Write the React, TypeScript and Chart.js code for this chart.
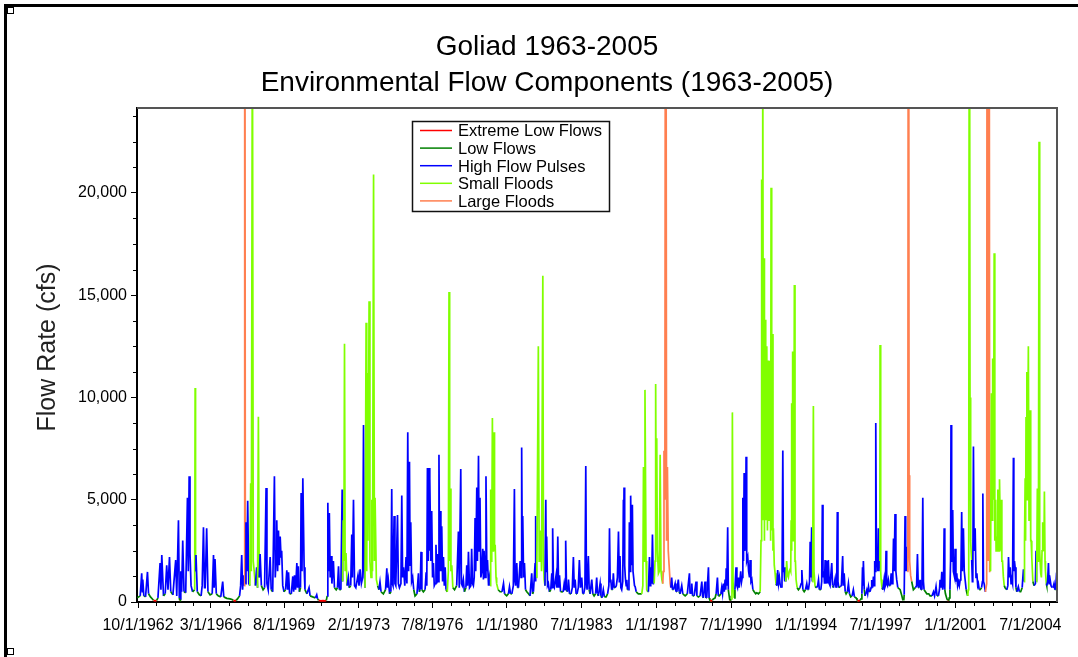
import React, { useEffect, useRef } from 'react';
import { Chart, registerables } from 'chart.js';

Chart.register(...registerables);

// ---------- text ----------
const chartTitle = ['Goliad 1963-2005', 'Environmental Flow Components (1963-2005)'];
const yAxisTitle = 'Flow Rate (cfs)';

// ---------- categories ----------
const componentCodes = ['E', 'L', 'H', 'S', 'F'];
const componentNames = ['Extreme Low Flows', 'Low Flows', 'High Flow Pulses', 'Small Floods', 'Large Floods'];
const componentColors = ['#FF0000', '#008000', '#0000FF', '#80FF00', '#FF7F50'];

// ---------- axes ----------
const xTickLabels = ['10/1/1962', '3/1/1966', '8/1/1969', '2/1/1973', '7/8/1976', '1/1/1980', '7/1/1983', '1/1/1987', '7/1/1990', '1/1/1994', '7/1/1997', '1/1/2001', '7/1/2004'];
const xTickYears = [1962.748, 1966.162, 1969.581, 1973.085, 1976.516, 1980.0, 1983.496, 1987.0, 1990.496, 1994.0, 1997.496, 2001.0, 2004.5];
const yTickValues = [0, 5000, 10000, 15000, 20000];
const yMinorStep = 1250;
const xStartYear = 1962.70;
const xEndYear = 2005.75;
const yMax = 24150;

// ---------- daily flow series (decimal year, cfs, component code) ----------
const flows1963to1967: [number, number, string][] = [
  [1962.71,200,'L'],[1962.85,300,'L'],[1962.92,1400,'H'],[1962.95,500,'H'],[1962.97,1100,'H'],[1963.02,300,'L'],
  [1963.10,250,'L'],[1963.19,1470,'H'],[1963.24,400,'L'],[1963.33,250,'L'],[1963.42,150,'L'],[1963.47,80,'E'],
  [1963.55,60,'E'],[1963.62,80,'E'],[1963.68,200,'L'],[1963.78,1900,'H'],[1963.82,600,'H'],[1963.86,2300,'H'],
  [1963.94,300,'L'],[1964.02,400,'L'],[1964.09,1800,'H'],[1964.15,600,'H'],[1964.22,2200,'H'],[1964.28,500,'L'],
  [1964.38,350,'L'],[1964.51,2050,'H'],[1964.56,300,'L'],[1964.64,4000,'H'],[1964.68,200,'L'],[1964.70,80,'E'],
  [1964.72,70,'E'],[1964.73,150,'L'],[1964.75,1500,'H'],[1964.79,500,'H'],[1964.84,3000,'H'],[1964.90,500,'L'],
  [1964.98,450,'L'],[1965.06,5100,'H'],[1965.10,1500,'H'],[1965.14,6150,'H'],[1965.18,2400,'H'],[1965.23,800,'H'],
  [1965.30,500,'L'],[1965.40,600,'L'],[1965.42,10460,'S'],[1965.44,1500,'S'],[1965.46,2300,'H'],[1965.52,500,'L'],
  [1965.62,350,'L'],[1965.70,300,'L'],[1965.75,800,'H'],[1965.81,3650,'H'],[1965.86,700,'H'],[1965.89,700,'H'],
  [1965.96,3600,'H'],[1966.02,500,'L'],[1966.12,350,'L'],[1966.22,400,'L'],[1966.28,2300,'H'],[1966.31,700,'H'],
  [1966.35,2100,'H'],[1966.41,400,'L'],[1966.50,300,'L'],[1966.62,250,'L'],[1966.71,1000,'H'],[1966.76,250,'L'],
  [1966.90,180,'L'],[1967.05,150,'L'],[1967.15,120,'L'],[1967.21,80,'E'],[1967.28,60,'E'],[1967.34,80,'E'],
  [1967.40,150,'L'],[1967.50,300,'L'],[1967.55,800,'H'],[1967.60,2300,'H'],[1967.64,600,'H'],[1967.68,1300,'H'],
  [1967.72,800,'H'],[1967.74,50000,'F'],[1967.77,900,'F'],[1967.80,3900,'H'],[1967.84,1500,'H'],[1967.88,4950,'H'],
  [1967.93,900,'H'],[1967.98,800,'L'],
];

const flows1968to1973: [number, number, string][] = [
  [1968.02,5800,'S'],[1968.05,1500,'S'],[1968.10,30000,'S'],[1968.14,2000,'S'],[1968.18,1550,'S'],[1968.24,800,'L'],
  [1968.30,1700,'H'],[1968.34,700,'L'],[1968.38,9050,'S'],[1968.42,1200,'S'],[1968.46,2350,'H'],[1968.52,800,'L'],
  [1968.60,600,'L'],[1968.67,700,'L'],[1968.74,5570,'H'],[1968.78,900,'H'],[1968.84,600,'L'],[1968.93,2200,'H'],
  [1968.98,600,'L'],[1969.05,500,'L'],[1969.13,6150,'H'],[1969.17,1200,'H'],[1969.22,2500,'H'],[1969.24,4000,'H'],
  [1969.28,1500,'H'],[1969.32,3500,'H'],[1969.36,1800,'H'],[1969.40,3200,'H'],[1969.44,2200,'H'],[1969.47,2500,'H'],
  [1969.52,800,'H'],[1969.58,500,'L'],[1969.65,600,'L'],[1969.71,1550,'H'],[1969.75,600,'L'],[1969.79,1450,'H'],
  [1969.84,400,'L'],[1969.92,400,'L'],[1969.99,1250,'H'],[1970.03,500,'L'],[1970.07,1300,'H'],[1970.12,600,'L'],
  [1970.18,1900,'H'],[1970.21,700,'H'],[1970.25,1750,'H'],[1970.30,500,'L'],[1970.35,700,'L'],[1970.38,5330,'H'],
  [1970.42,1500,'H'],[1970.46,6050,'H'],[1970.52,1700,'H'],[1970.56,600,'L'],[1970.65,400,'L'],[1970.75,700,'H'],
  [1970.80,300,'L'],[1970.92,250,'L'],[1971.05,200,'L'],[1971.11,350,'H'],[1971.15,150,'L'],[1971.20,80,'E'],
  [1971.30,60,'E'],[1971.40,70,'E'],[1971.50,60,'E'],[1971.56,80,'E'],[1971.60,300,'L'],[1971.63,4850,'H'],
  [1971.66,1500,'H'],[1971.70,4350,'H'],[1971.74,1200,'H'],[1971.78,2250,'H'],[1971.82,900,'H'],[1971.89,2000,'H'],
  [1971.94,700,'L'],[1972.02,600,'L'],[1972.08,700,'L'],[1972.13,1750,'H'],[1972.17,600,'L'],[1972.24,600,'L'],
  [1972.30,5500,'H'],[1972.32,1000,'H'],[1972.35,4000,'S'],[1972.38,2000,'S'],[1972.41,12620,'S'],[1972.44,1500,'S'],
  [1972.48,2400,'S'],[1972.53,800,'L'],[1972.59,1200,'H'],[1972.63,700,'L'],[1972.70,800,'L'],[1972.75,3300,'H'],
  [1972.78,1200,'H'],[1972.83,5000,'H'],[1972.88,800,'H'],[1972.94,700,'L'],[1973.04,1300,'H'],[1973.09,800,'H'],
  [1973.14,1600,'H'],[1973.20,900,'L'],[1973.26,1200,'H'],[1973.30,8650,'H'],[1973.34,1500,'H'],[1973.37,700,'S'],
  [1973.42,13650,'S'],[1973.45,1500,'S'],[1973.48,11200,'S'],[1973.51,3000,'S'],[1973.56,14700,'S'],[1973.60,2000,'S'],
  [1973.65,1200,'S'],[1973.69,5000,'S'],[1973.72,1500,'S'],[1973.77,20900,'S'],[1973.81,2000,'S'],[1973.84,5100,'S'],
  [1973.90,1100,'S'],[1973.96,800,'L'],
];

const flows1974to1979: [number, number, string][] = [
  [1974.02,600,'L'],[1974.07,980,'H'],[1974.12,500,'L'],[1974.23,400,'L'],[1974.33,600,'L'],[1974.39,1650,'H'],
  [1974.42,700,'H'],[1974.46,1080,'H'],[1974.52,400,'L'],[1974.58,500,'L'],[1974.62,5520,'H'],[1974.65,900,'H'],
  [1974.68,800,'L'],[1974.73,4200,'H'],[1974.77,900,'H'],[1974.81,800,'L'],[1974.89,4250,'H'],[1974.93,900,'H'],
  [1974.98,700,'L'],[1975.05,900,'H'],[1975.09,5200,'H'],[1975.13,1200,'H'],[1975.17,1700,'H'],[1975.23,800,'H'],
  [1975.29,2200,'H'],[1975.33,900,'H'],[1975.37,8300,'H'],[1975.41,1500,'H'],[1975.45,6850,'H'],[1975.48,1800,'H'],
  [1975.51,3900,'H'],[1975.55,1000,'H'],[1975.60,1200,'H'],[1975.65,600,'L'],[1975.71,300,'L'],[1975.80,400,'L'],
  [1975.87,1400,'H'],[1975.91,500,'L'],[1975.95,600,'L'],[1975.99,2450,'H'],[1976.03,600,'L'],[1976.10,500,'L'],
  [1976.18,600,'L'],[1976.23,1450,'H'],[1976.26,800,'H'],[1976.29,6550,'H'],[1976.33,2000,'H'],[1976.37,6550,'H'],
  [1976.39,2500,'H'],[1976.41,6050,'H'],[1976.45,2000,'H'],[1976.49,4450,'H'],[1976.53,1200,'H'],[1976.57,1900,'H'],
  [1976.61,800,'H'],[1976.65,900,'H'],[1976.69,2800,'H'],[1976.73,900,'H'],[1976.77,2350,'H'],[1976.80,1000,'H'],
  [1976.83,7200,'H'],[1976.86,1500,'H'],[1976.88,4450,'H'],[1976.92,1500,'H'],[1976.96,3700,'H'],[1977.00,1000,'H'],
  [1977.04,2200,'H'],[1977.08,800,'H'],[1977.12,1700,'H'],[1977.16,600,'L'],[1977.22,500,'L'],[1977.27,1500,'S'],
  [1977.30,15150,'S'],[1977.33,2000,'S'],[1977.35,5550,'S'],[1977.39,1500,'S'],[1977.43,1800,'S'],[1977.48,700,'L'],
  [1977.56,600,'L'],[1977.66,800,'L'],[1977.74,3450,'H'],[1977.78,700,'L'],[1977.85,6500,'H'],[1977.88,900,'H'],
  [1977.92,800,'L'],[1977.97,1100,'H'],[1978.02,500,'L'],[1978.09,700,'L'],[1978.13,1800,'H'],[1978.17,800,'H'],
  [1978.21,2450,'H'],[1978.26,700,'L'],[1978.32,800,'H'],[1978.36,2600,'H'],[1978.40,900,'H'],[1978.44,800,'L'],
  [1978.48,1200,'H'],[1978.52,4100,'H'],[1978.55,1500,'H'],[1978.60,5600,'H'],[1978.63,2000,'H'],[1978.68,7150,'H'],
  [1978.71,2500,'H'],[1978.75,5100,'H'],[1978.79,1200,'H'],[1978.83,1500,'H'],[1978.88,2600,'H'],[1978.91,1100,'H'],
  [1978.94,2500,'H'],[1978.99,1200,'H'],[1979.03,6150,'H'],[1979.07,1500,'H'],[1979.10,2050,'H'],[1979.15,800,'H'],
  [1979.19,1200,'H'],[1979.23,800,'S'],[1979.25,5500,'S'],[1979.28,2000,'S'],[1979.30,3000,'S'],[1979.33,9000,'S'],
  [1979.36,2500,'S'],[1979.38,4000,'S'],[1979.41,8300,'S'],[1979.43,2500,'S'],[1979.46,2800,'S'],[1979.50,1200,'S'],
  [1979.53,900,'S'],[1979.60,600,'L'],[1979.69,500,'L'],[1979.78,500,'L'],[1979.85,900,'H'],[1979.90,400,'L'],
];

const flows1980to1985: [number, number, string][] = [
  [1980.00,300,'L'],[1980.08,400,'L'],[1980.13,750,'H'],[1980.18,400,'L'],[1980.24,400,'L'],[1980.31,800,'H'],
  [1980.36,5520,'H'],[1980.39,1000,'H'],[1980.42,800,'L'],[1980.47,1900,'H'],[1980.51,700,'L'],[1980.55,700,'L'],
  [1980.63,2000,'H'],[1980.67,1200,'H'],[1980.70,7550,'H'],[1980.73,2000,'H'],[1980.75,4200,'H'],[1980.79,1200,'H'],
  [1980.83,1900,'H'],[1980.88,600,'L'],[1980.94,500,'L'],[1981.02,400,'L'],[1981.09,300,'L'],[1981.17,1400,'H'],
  [1981.21,400,'L'],[1981.25,500,'L'],[1981.33,1900,'H'],[1981.35,1000,'H'],[1981.36,4200,'H'],[1981.39,1200,'H'],
  [1981.41,1500,'S'],[1981.48,12500,'S'],[1981.52,2000,'S'],[1981.55,2500,'S'],[1981.59,3500,'S'],[1981.63,1500,'S'],
  [1981.69,15950,'S'],[1981.72,2000,'S'],[1981.75,1100,'S'],[1981.79,800,'H'],[1981.83,5000,'H'],[1981.85,1500,'H'],
  [1981.87,3200,'H'],[1981.91,800,'H'],[1981.95,900,'H'],[1982.00,500,'L'],[1982.06,600,'L'],[1982.11,1400,'H'],
  [1982.13,700,'H'],[1982.15,3600,'H'],[1982.19,800,'H'],[1982.23,700,'L'],[1982.31,1300,'H'],[1982.35,700,'H'],
  [1982.39,3200,'H'],[1982.43,700,'H'],[1982.47,1300,'H'],[1982.52,500,'L'],[1982.58,500,'L'],[1982.64,500,'L'],
  [1982.69,900,'H'],[1982.73,600,'H'],[1982.76,3000,'H'],[1982.80,600,'L'],[1982.84,500,'L'],[1982.89,1100,'H'],
  [1982.94,400,'L'],[1983.01,400,'L'],[1983.07,700,'H'],[1983.12,2200,'H'],[1983.16,700,'H'],[1983.20,1100,'H'],
  [1983.25,400,'L'],[1983.29,400,'L'],[1983.35,700,'H'],[1983.40,2050,'H'],[1983.45,700,'H'],[1983.51,1200,'H'],
  [1983.56,400,'L'],[1983.60,400,'L'],[1983.66,700,'H'],[1983.70,6650,'H'],[1983.73,1000,'H'],[1983.76,600,'L'],
  [1983.82,2250,'H'],[1983.86,600,'L'],[1983.90,400,'L'],[1983.98,1100,'H'],[1984.03,400,'L'],[1984.09,300,'L'],
  [1984.16,400,'L'],[1984.21,1200,'H'],[1984.25,400,'L'],[1984.29,300,'L'],[1984.37,900,'H'],[1984.41,300,'L'],
  [1984.45,200,'L'],[1984.52,600,'H'],[1984.57,250,'L'],[1984.65,250,'L'],[1984.72,400,'L'],[1984.78,800,'H'],
  [1984.81,3600,'H'],[1984.84,1000,'H'],[1984.87,1100,'H'],[1984.91,600,'L'],[1984.95,600,'L'],[1984.99,1400,'H'],
  [1985.03,700,'L'],[1985.07,700,'L'],[1985.13,800,'H'],[1985.18,1200,'H'],[1985.23,3450,'H'],[1985.27,1000,'H'],
  [1985.30,2250,'H'],[1985.34,700,'H'],[1985.38,600,'L'],[1985.43,1000,'H'],[1985.46,5000,'H'],[1985.47,2500,'H'],
  [1985.49,5600,'H'],[1985.52,1800,'H'],[1985.55,1200,'H'],[1985.59,800,'H'],[1985.62,1080,'H'],[1985.65,600,'L'],
  [1985.68,600,'L'],[1985.72,1000,'H'],[1985.74,3900,'H'],[1985.77,1500,'H'],[1985.80,5200,'H'],[1985.84,1800,'H'],
  [1985.88,4750,'H'],[1985.91,1500,'H'],[1985.94,1500,'H'],[1985.98,800,'H'],
];

const flows1986to1991: [number, number, string][] = [
  [1986.01,750,'H'],[1986.06,500,'L'],[1986.16,400,'L'],[1986.25,400,'L'],[1986.32,400,'L'],[1986.37,800,'S'],
  [1986.40,6600,'S'],[1986.43,2000,'S'],[1986.47,10370,'S'],[1986.52,2000,'S'],[1986.55,600,'S'],[1986.60,500,'L'],
  [1986.63,500,'L'],[1986.68,2200,'H'],[1986.71,800,'H'],[1986.74,1700,'H'],[1986.78,900,'H'],[1986.82,3300,'H'],
  [1986.86,900,'H'],[1986.90,900,'H'],[1986.94,2000,'S'],[1986.97,10660,'S'],[1987.00,3000,'S'],[1987.02,8000,'S'],
  [1987.05,2500,'S'],[1987.07,2500,'S'],[1987.10,1400,'S'],[1987.14,1500,'S'],[1987.18,7200,'S'],[1987.22,1500,'S'],
  [1987.26,1100,'S'],[1987.30,900,'L'],[1987.33,1500,'F'],[1987.36,7400,'F'],[1987.40,5000,'F'],[1987.44,50000,'F'],
  [1987.48,3000,'F'],[1987.52,6600,'F'],[1987.56,2500,'F'],[1987.60,1800,'F'],[1987.65,900,'F'],[1987.68,700,'L'],
  [1987.72,1200,'H'],[1987.76,600,'L'],[1987.80,600,'L'],[1987.88,900,'H'],[1987.92,500,'L'],[1987.96,500,'L'],
  [1988.03,1100,'H'],[1988.07,500,'L'],[1988.11,400,'L'],[1988.19,800,'H'],[1988.24,400,'L'],[1988.35,300,'L'],
  [1988.45,400,'L'],[1988.55,1400,'H'],[1988.58,400,'L'],[1988.61,400,'L'],[1988.66,900,'H'],[1988.70,300,'L'],
  [1988.77,300,'L'],[1988.86,1000,'H'],[1988.90,300,'L'],[1988.97,250,'L'],[1989.05,300,'L'],[1989.13,1000,'H'],
  [1989.17,250,'L'],[1989.20,200,'L'],[1989.28,1000,'H'],[1989.32,200,'L'],[1989.36,200,'L'],[1989.44,1700,'H'],
  [1989.47,200,'L'],[1989.50,120,'L'],[1989.52,80,'E'],[1989.57,60,'E'],[1989.62,80,'E'],[1989.67,150,'L'],
  [1989.75,200,'L'],[1989.80,400,'L'],[1989.86,1200,'H'],[1989.90,300,'L'],[1989.95,300,'L'],[1990.02,400,'L'],
  [1990.06,700,'H'],[1990.10,400,'H'],[1990.14,900,'H'],[1990.18,500,'H'],[1990.22,1100,'H'],[1990.25,600,'H'],
  [1990.27,1650,'H'],[1990.30,800,'H'],[1990.34,3650,'H'],[1990.37,600,'L'],[1990.41,300,'L'],[1990.44,80,'E'],
  [1990.47,60,'E'],[1990.50,150,'L'],[1990.54,500,'S'],[1990.56,9270,'S'],[1990.59,1000,'S'],[1990.64,200,'S'],
  [1990.68,600,'L'],[1990.73,1700,'H'],[1990.77,800,'H'],[1990.80,700,'L'],[1990.84,1200,'H'],[1990.88,700,'H'],
  [1990.95,1500,'H'],[1990.99,1000,'H'],[1991.02,1200,'H'],[1991.05,5100,'H'],[1991.08,2000,'H'],[1991.11,6300,'H'],
  [1991.13,2500,'H'],[1991.15,2500,'H'],[1991.18,3000,'H'],[1991.20,7100,'H'],[1991.23,2000,'H'],[1991.28,2200,'H'],
  [1991.32,1500,'H'],[1991.36,1200,'H'],[1991.39,2050,'H'],[1991.43,1000,'H'],[1991.47,1100,'H'],[1991.52,600,'L'],
  [1991.58,500,'L'],[1991.65,400,'L'],[1991.70,450,'L'],[1991.78,400,'L'],[1991.86,500,'L'],[1991.90,3000,'S'],
  [1991.93,20650,'S'],[1991.95,5000,'S'],[1991.98,30000,'S'],
];

const flows1992to1997: [number, number, string][] = [
  [1992.01,4000,'S'],[1992.04,16800,'S'],[1992.06,3000,'S'],[1992.09,13800,'S'],[1992.12,4000,'S'],[1992.17,12500,'S'],
  [1992.20,3500,'S'],[1992.25,11800,'S'],[1992.28,4000,'S'],[1992.32,11800,'S'],[1992.35,3000,'S'],[1992.37,20250,'S'],
  [1992.40,3500,'S'],[1992.43,13100,'S'],[1992.46,2500,'S'],[1992.48,3600,'S'],[1992.52,1800,'S'],[1992.56,1400,'S'],
  [1992.60,900,'L'],[1992.64,800,'L'],[1992.68,1560,'H'],[1992.72,900,'H'],[1992.76,1200,'H'],[1992.79,900,'H'],
  [1992.84,700,'L'],[1992.88,700,'L'],[1992.92,7400,'H'],[1992.95,1500,'H'],[1992.98,1500,'H'],[1993.01,1000,'H'],
  [1993.03,1700,'H'],[1993.06,1000,'H'],[1993.10,2000,'S'],[1993.14,1300,'S'],[1993.18,1200,'S'],[1993.22,1500,'S'],
  [1993.26,1600,'S'],[1993.29,1500,'S'],[1993.31,4000,'S'],[1993.33,2500,'S'],[1993.34,9720,'S'],[1993.36,3000,'S'],
  [1993.38,12250,'S'],[1993.40,3000,'S'],[1993.42,5000,'S'],[1993.44,3000,'S'],[1993.46,15500,'S'],[1993.49,2000,'S'],
  [1993.51,2000,'S'],[1993.54,1100,'S'],[1993.59,700,'L'],[1993.65,600,'L'],[1993.72,700,'L'],[1993.78,900,'H'],
  [1993.81,1560,'H'],[1993.86,600,'L'],[1993.92,500,'L'],[1993.98,600,'L'],[1994.04,900,'H'],[1994.08,600,'L'],
  [1994.12,600,'L'],[1994.17,1000,'H'],[1994.20,2950,'H'],[1994.23,1200,'H'],[1994.27,3650,'H'],[1994.30,1000,'H'],
  [1994.32,2000,'S'],[1994.35,9580,'S'],[1994.38,1500,'S'],[1994.40,1500,'S'],[1994.43,750,'L'],[1994.50,700,'L'],
  [1994.55,800,'H'],[1994.59,1080,'H'],[1994.63,600,'L'],[1994.70,600,'L'],[1994.74,1000,'H'],[1994.77,4750,'H'],
  [1994.80,1200,'H'],[1994.84,1500,'H'],[1994.87,900,'H'],[1994.90,2050,'H'],[1994.93,900,'H'],[1994.98,2000,'H'],
  [1995.01,900,'H'],[1995.05,2050,'H'],[1995.09,900,'H'],[1995.13,800,'L'],[1995.21,1900,'H'],[1995.25,800,'L'],
  [1995.29,700,'L'],[1995.37,1150,'H'],[1995.41,700,'L'],[1995.44,700,'L'],[1995.47,4400,'H'],[1995.50,1000,'H'],
  [1995.54,700,'L'],[1995.60,750,'L'],[1995.66,800,'H'],[1995.72,2250,'H'],[1995.75,800,'H'],[1995.79,1400,'H'],
  [1995.84,500,'L'],[1995.88,400,'L'],[1995.94,500,'L'],[1995.99,900,'H'],[1996.04,400,'L'],[1996.10,250,'L'],
  [1996.16,300,'L'],[1996.22,600,'H'],[1996.27,250,'L'],[1996.35,200,'L'],[1996.39,120,'L'],[1996.41,80,'E'],
  [1996.47,60,'E'],[1996.54,80,'E'],[1996.58,150,'L'],[1996.62,400,'L'],[1996.65,1700,'H'],[1996.67,800,'H'],
  [1996.69,2000,'H'],[1996.73,600,'L'],[1996.77,300,'L'],[1996.85,600,'H'],[1996.89,400,'L'],[1996.93,750,'H'],
  [1996.97,500,'L'],[1997.00,500,'L'],[1997.05,700,'H'],[1997.08,1080,'H'],[1997.12,700,'H'],[1997.16,1240,'H'],
  [1997.19,800,'H'],[1997.22,2000,'H'],[1997.25,1500,'H'],[1997.27,8750,'H'],[1997.30,2000,'H'],[1997.32,2500,'H'],
  [1997.36,1500,'H'],[1997.39,3600,'H'],[1997.42,1500,'H'],[1997.44,2000,'H'],[1997.46,2000,'S'],[1997.47,12560,'S'],
  [1997.50,1500,'S'],[1997.52,1100,'S'],[1997.56,700,'L'],[1997.60,600,'L'],[1997.66,1100,'H'],[1997.69,700,'L'],
  [1997.72,800,'H'],[1997.75,2500,'H'],[1997.78,900,'H'],[1997.82,800,'L'],[1997.86,1080,'H'],[1997.90,800,'L'],
  [1997.95,800,'H'],[1997.99,1400,'H'],
];

const flows1998to2005: [number, number, string][] = [
  [1998.03,900,'H'],[1998.07,1500,'H'],[1998.10,3100,'H'],[1998.13,1500,'H'],[1998.17,4300,'H'],[1998.21,1500,'H'],
  [1998.25,1080,'H'],[1998.30,700,'L'],[1998.41,600,'L'],[1998.49,300,'L'],[1998.53,120,'L'],[1998.55,80,'E'],
  [1998.58,80,'E'],[1998.60,350,'L'],[1998.64,4200,'H'],[1998.67,1500,'H'],[1998.72,2700,'H'],[1998.75,1500,'H'],
  [1998.77,4300,'F'],[1998.80,50000,'F'],[1998.83,3000,'F'],[1998.84,6200,'F'],[1998.87,2000,'F'],[1998.90,1300,'F'],
  [1998.95,1000,'L'],[1999.03,600,'L'],[1999.12,700,'L'],[1999.18,800,'H'],[1999.22,2350,'H'],[1999.26,700,'L'],
  [1999.30,700,'L'],[1999.34,1080,'H'],[1999.38,600,'L'],[1999.43,600,'L'],[1999.47,5100,'H'],[1999.50,1000,'H'],
  [1999.53,600,'L'],[1999.66,400,'L'],[1999.75,400,'L'],[1999.81,300,'L'],[1999.90,300,'L'],[1999.97,500,'H'],
  [2000.02,300,'L'],[2000.09,750,'H'],[2000.14,300,'L'],[2000.20,300,'L'],[2000.25,600,'H'],[2000.28,1080,'H'],
  [2000.32,700,'H'],[2000.36,1480,'H'],[2000.40,600,'H'],[2000.44,900,'H'],[2000.47,3600,'H'],[2000.50,600,'L'],
  [2000.53,400,'L'],[2000.60,150,'L'],[2000.64,80,'E'],[2000.68,60,'E'],[2000.71,200,'L'],[2000.74,600,'L'],
  [2000.77,2000,'H'],[2000.79,8650,'H'],[2000.82,2500,'H'],[2000.84,2000,'H'],[2000.87,4500,'H'],[2000.90,1500,'H'],
  [2000.93,1500,'H'],[2000.96,1200,'H'],[2000.98,2600,'H'],[2001.02,1000,'H'],[2001.06,1400,'H'],[2001.10,800,'H'],
  [2001.14,1000,'H'],[2001.18,800,'H'],[2001.22,1080,'H'],[2001.25,1200,'H'],[2001.29,4400,'H'],[2001.32,1500,'H'],
  [2001.37,3600,'H'],[2001.41,1500,'H'],[2001.45,1100,'H'],[2001.50,600,'L'],[2001.53,600,'L'],[2001.57,300,'L'],
  [2001.60,600,'S'],[2001.62,3000,'S'],[2001.65,40000,'S'],[2001.68,10000,'S'],[2001.71,3000,'S'],[2001.73,2500,'S'],
  [2001.76,2050,'H'],[2001.79,1000,'H'],[2001.81,1200,'H'],[2001.84,7600,'H'],[2001.87,2500,'H'],[2001.92,3600,'H'],
  [2001.96,1200,'H'],[2002.00,1400,'H'],[2002.04,800,'H'],[2002.07,900,'H'],[2002.11,600,'L'],[2002.15,600,'L'],
  [2002.22,700,'L'],[2002.26,1000,'H'],[2002.28,5300,'H'],[2002.31,1000,'H'],[2002.34,900,'H'],[2002.40,500,'L'],
  [2002.46,900,'F'],[2002.49,60000,'F'],[2002.52,2000,'F'],[2002.53,4000,'F'],[2002.56,60000,'F'],[2002.60,1500,'F'],
  [2002.64,1500,'S'],[2002.68,10200,'S'],[2002.71,4000,'S'],[2002.74,11900,'S'],[2002.78,5000,'S'],[2002.81,17050,'S'],
  [2002.84,3000,'S'],[2002.88,5000,'S'],[2002.90,2500,'S'],[2002.93,3200,'S'],[2002.96,2500,'S'],[2002.98,5500,'S'],
  [2003.01,3500,'S'],[2003.04,2500,'S'],[2003.06,6000,'S'],[2003.09,4000,'S'],[2003.11,2500,'S'],[2003.13,5000,'S'],
  [2003.17,2000,'S'],[2003.20,2000,'S'],[2003.24,1240,'S'],[2003.28,800,'L'],[2003.32,700,'L'],[2003.40,600,'L'],
  [2003.45,800,'H'],[2003.48,2200,'H'],[2003.52,1200,'H'],[2003.56,1700,'H'],[2003.60,900,'H'],[2003.63,1100,'H'],
  [2003.67,900,'H'],[2003.71,7050,'H'],[2003.73,1500,'H'],[2003.76,2000,'H'],[2003.79,1700,'H'],[2003.83,700,'L'],
  [2003.87,500,'L'],[2003.94,750,'H'],[2003.99,500,'L'],[2004.05,500,'L'],[2004.12,700,'L'],[2004.18,1600,'H'],
  [2004.21,1000,'H'],[2004.23,3000,'S'],[2004.26,6050,'S'],[2004.28,3000,'S'],[2004.30,9000,'S'],[2004.34,11250,'S'],
  [2004.36,5000,'S'],[2004.38,8000,'S'],[2004.41,12500,'S'],[2004.44,4000,'S'],[2004.46,6000,'S'],[2004.49,9370,'S'],
  [2004.52,3000,'S'],[2004.54,3000,'S'],[2004.57,2200,'S'],[2004.62,1000,'L'],[2004.68,800,'L'],[2004.74,900,'H'],
  [2004.77,2500,'H'],[2004.79,1000,'H'],[2004.80,1500,'S'],[2004.83,5550,'S'],[2004.86,2000,'S'],[2004.88,2000,'S'],
  [2004.91,22500,'S'],[2004.94,2500,'S'],[2004.96,2000,'S'],[2004.99,1400,'S'],[2005.02,1200,'S'],[2005.05,2500,'S'],
  [2005.08,3900,'S'],[2005.11,3000,'S'],[2005.14,2500,'S'],[2005.16,5400,'S'],[2005.19,2000,'S'],[2005.21,1500,'S'],
  [2005.25,900,'L'],[2005.27,800,'L'],[2005.31,1000,'H'],[2005.35,1900,'H'],[2005.38,900,'H'],[2005.40,1300,'H'],
  [2005.43,1080,'H'],[2005.47,800,'H'],[2005.52,700,'L'],[2005.56,700,'L'],[2005.61,900,'H'],[2005.65,600,'L'],
  [2005.68,600,'L'],[2005.71,1080,'H'],[2005.75,800,'H'],
];

const FONT = "'Liberation Sans', Arial, Helvetica, sans-serif";

export default function App() {
  const canvasRef = useRef<HTMLCanvasElement | null>(null);

  useEffect(() => {
    const canvas = canvasRef.current;
    if (!canvas) return;

    const rows = [
      ...flows1963to1967, ...flows1968to1973, ...flows1974to1979,
      ...flows1980to1985, ...flows1986to1991, ...flows1992to1997, ...flows1998to2005,
    ];
    const points = rows.map((r) => ({ x: r[0], y: r[1], c: componentCodes.indexOf(r[2]) }));
    const colorOf = (c: number) => componentColors[c] ?? componentColors[2];

    const decorPlugin = {
      id: 'decor',
      afterDraw(chart: any) {
        const { ctx, chartArea: a, scales } = chart;
        const xs = scales.x;
        const ys = scales.y;
        ctx.save();
        // top & right frame of plot area
        ctx.strokeStyle = '#555555';
        ctx.lineWidth = 2;
        ctx.beginPath();
        ctx.moveTo(a.left, a.top);
        ctx.lineTo(a.right, a.top);
        ctx.lineTo(a.right, a.bottom);
        ctx.stroke();
        // minor ticks
        ctx.strokeStyle = '#000';
        ctx.lineWidth = 1;
        ctx.beginPath();
        for (let v = yMinorStep; v < yMax; v += yMinorStep) {
          if (v % 5000 === 0) continue;
          const py = Math.round(ys.getPixelForValue(v)) + 0.5;
          ctx.moveTo(a.left - 4, py);
          ctx.lineTo(a.left, py);
        }
        for (let i = 0; i < xTickYears.length; i++) {
          const a0 = xTickYears[i];
          const a1 = i + 1 < xTickYears.length ? xTickYears[i + 1] : a0 + (a0 - xTickYears[i - 1]);
          for (let k = 1; k < 4; k++) {
            const v = a0 + ((a1 - a0) * k) / 4;
            if (v > xEndYear) break;
            const px = Math.round(xs.getPixelForValue(v)) + 0.5;
            ctx.moveTo(px, a.bottom);
            ctx.lineTo(px, a.bottom + 4);
          }
        }
        ctx.stroke();

        // y axis title (rotated)
        ctx.save();
        ctx.translate(48, 347.5);
        ctx.rotate(-Math.PI / 2);
        ctx.fillStyle = '#222';
        ctx.font = `25px ${FONT}`;
        ctx.textAlign = 'center';
        ctx.textBaseline = 'middle';
        ctx.fillText(yAxisTitle, 0, 0);
        ctx.restore();

        // legend box
        const lx = a.left + 275;
        const ly = a.top + 13;
        const lw = 197;
        const lh = 90;
        ctx.fillStyle = '#ffffff';
        ctx.fillRect(lx, ly, lw, lh);
        ctx.strokeStyle = '#111';
        ctx.lineWidth = 1.5;
        ctx.strokeRect(lx + 0.5, ly + 0.5, lw, lh);
        ctx.font = `16.5px ${FONT}`;
        ctx.textBaseline = 'alphabetic';
        ctx.textAlign = 'left';
        componentNames.forEach((name, i) => {
          const cy = ly + 9.5 + i * 17.6;
          ctx.strokeStyle = componentColors[i];
          ctx.lineWidth = 1.5;
          ctx.beginPath();
          ctx.moveTo(lx + 8, cy);
          ctx.lineTo(lx + 40, cy);
          ctx.stroke();
          ctx.fillStyle = '#000';
          ctx.fillText(name, lx + 46, cy + 5.9);
        });
        ctx.restore();
      },
    };

    const chart = new Chart(canvas, {
      type: 'line',
      data: {
        datasets: [
          {
            label: 'Flow',
            data: points as any,
            parsing: false,
            borderColor: componentColors[2],
            borderWidth: 1.7,
            pointRadius: 0,
            tension: 0,
            spanGaps: false,
            segment: {
              borderColor: (sc: any) => {
                const p0 = points[sc.p0DataIndex];
                const p1 = points[sc.p1DataIndex];
                const hi = p0.y >= p1.y ? p0 : p1;
                return colorOf(hi.c);
              },
            },
          } as any,
        ],
      },
      options: {
        animation: false,
        responsive: false,
        events: [],
        layout: { padding: { left: 37, right: 21, top: 0, bottom: 0 } },
        plugins: {
          legend: { display: false },
          tooltip: { enabled: false },
          title: {
            display: true,
            text: chartTitle,
            color: '#000',
            font: { family: FONT, size: 28, weight: 'normal', lineHeight: 36 / 28 },
            padding: { top: 29, bottom: 7 },
          },
        },
        scales: {
          x: {
            type: 'linear',
            min: xStartYear,
            max: xEndYear,
            afterBuildTicks: (s: any) => {
              s.ticks = xTickYears.map((v) => ({ value: v }));
            },
            afterFit: (s: any) => {
              s.height = 55;
            },
            ticks: {
              autoSkip: false,
              maxRotation: 0,
              minRotation: 0,
              padding: 8,
              color: '#000',
              font: { family: FONT, size: 16 },
              callback: (_v: any, i: number) => xTickLabels[i],
            },
            grid: { display: true, drawOnChartArea: false, drawTicks: true, tickLength: 6, color: '#000' },
            border: { display: true, color: '#000', width: 2 },
          },
          y: {
            type: 'linear',
            min: 0,
            max: yMax,
            afterBuildTicks: (s: any) => {
              s.ticks = yTickValues.map((v) => ({ value: v }));
            },
            afterFit: (s: any) => {
              s.width = 100;
            },
            ticks: {
              padding: 4,
              color: '#000',
              font: { family: FONT, size: 16 },
              callback: (v: any) => Number(v).toLocaleString('en-US'),
            },
            grid: { display: true, drawOnChartArea: false, drawTicks: true, tickLength: 6, color: '#000' },
            border: { display: true, color: '#000', width: 2 },
          },
        },
      } as any,
      plugins: [decorPlugin],
    });

    return () => chart.destroy();
  }, []);

  return (
    <div style={{ position: 'absolute', left: 0, top: 0, width: 1078, height: 657, background: '#fff', overflow: 'hidden' }}>
      <div
        style={{
          position: 'absolute', left: 4, top: 4, width: 1090, height: 670,
          borderLeft: '3px solid #000', borderTop: '3px solid #000',
        }}
      />
      <canvas ref={canvasRef} width={1078} height={657} style={{ position: 'absolute', left: 0, top: 0, width: 1078, height: 657 }} />
      <div style={{ position: 'absolute', left: 7, top: 7, width: 5, height: 5, border: '1px solid #000', background: '#fff' }} />
      <div style={{ position: 'absolute', left: 7, top: 648, width: 5, height: 5, border: '1px solid #000', background: '#fff' }} />
    </div>
  );
}
